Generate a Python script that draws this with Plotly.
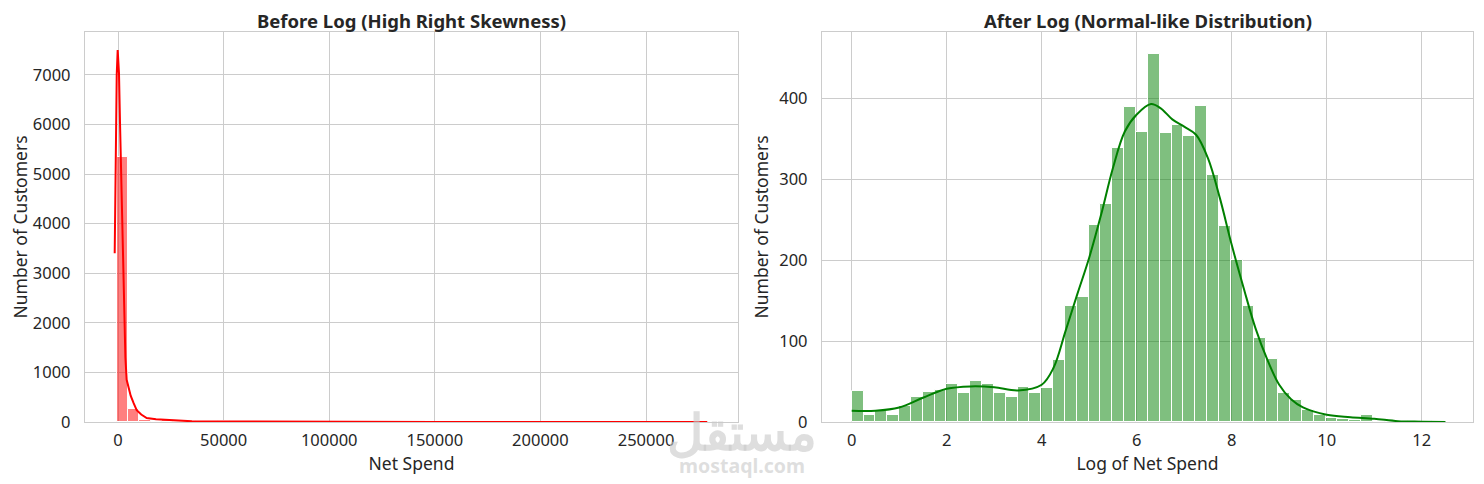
import numpy as np
import plotly.graph_objects as go
from plotly.subplots import make_subplots

# 왼쪽: 로그 변환 전 (bins=50)
before_lo, before_hi = -615, 267000
before_counts = [5343, 262, 45, 22, 35, 28, 12, 8, 10, 18, 6, 4, 3, 5, 2, 2, 1, 1, 2, 0,
                 1, 0, 0, 1, 0, 0, 1, 0, 0, 0, 0, 1, 0, 0, 0, 0, 0, 0, 0, 0,
                 0, 0, 0, 0, 0, 0, 0, 0, 0, 1]
before_kde_x = [-1560, -1100, -600, -150, 470, 950, 1420, 1890, 2370, 2980, 3500, 4100,
                5000, 6000, 7400, 8850, 11000, 13600, 18000, 23000, 35000, 50000, 80000,
                150000, 279000]
before_kde_y = [3400, 5500, 7000, 7500, 7030, 6030, 5020, 4010, 3060, 1855, 1300, 850,
                680, 530, 380, 240, 150, 80, 55, 40, 15, 10, 3, 0, 0]

# 오른쪽: 로그 변환 후 (bins=50)
after_lo, after_hi = 0.0, 12.47
after_counts = [38, 9, 13, 9, 20, 31, 37, 40, 47, 36, 51, 47, 36, 31, 43, 36, 42, 77,
                143, 155, 243, 269, 339, 389, 358, 455, 357, 367, 354, 391, 305, 242,
                200, 143, 104, 78, 36, 27, 15, 9, 5, 4, 2, 9, 1, 1, 0, 1, 0, 1]
after_kde_x = [0, 0.5, 1.0, 1.5, 2.0, 2.5, 3.0, 3.5, 4.0, 4.25, 4.5, 4.75, 5.0, 5.25,
               5.5, 5.75, 6.0, 6.3, 6.5, 6.75, 7.0, 7.25, 7.5, 7.75, 8.0, 8.25, 8.5,
               8.75, 9.0, 9.25, 9.5, 10.0, 10.5, 11.0, 11.5, 12.0, 12.5]
after_kde_y = [14, 14, 18, 30, 41, 44, 43, 39, 46, 67, 112, 158, 203, 256, 314, 359,
               380, 393, 388, 374, 365, 355, 326, 277, 219, 166, 116, 77, 46, 28, 18,
               9, 6, 4, 1, 0.4, 0]


def bin_centers(lo, hi, counts):
    edges = np.linspace(lo, hi, len(counts) + 1)
    return (edges[:-1] + edges[1:]) / 2, edges[1] - edges[0]


FONT = "Noto Sans"
TXT = "#262626"
GRID = "#cccccc"
W, H = 1484, 484
OFF = 8  # 페이지 body 여백 보정


def px(x):
    return (x - OFF) / W


def py(y):
    return 1 - (y - OFF) / H


fig = make_subplots(rows=1, cols=2)

bx, bw = bin_centers(before_lo, before_hi, before_counts)
fig.add_trace(go.Bar(x=bx, y=before_counts, width=bw,
                     marker=dict(color="rgba(255,0,0,0.5)", line=dict(color="white", width=1)),
                     showlegend=False), row=1, col=1)
fig.add_trace(go.Scatter(x=before_kde_x, y=before_kde_y, mode="lines",
                         line=dict(color="red", width=2), showlegend=False), row=1, col=1)

ax, aw = bin_centers(after_lo, after_hi, after_counts)
fig.add_trace(go.Bar(x=ax, y=after_counts, width=aw,
                     marker=dict(color="rgba(0,128,0,0.5)", line=dict(color="white", width=1)),
                     showlegend=False), row=1, col=2)
fig.add_trace(go.Scatter(x=after_kde_x, y=after_kde_y, mode="lines", line_shape="spline",
                         line=dict(color="green", width=2), showlegend=False), row=1, col=2)

axis_style = dict(showgrid=True, gridcolor=GRID, gridwidth=1.3, zeroline=False,
                  showline=True, mirror=True, linecolor=GRID, linewidth=1.3,
                  ticks="", automargin=False,
                  tickfont=dict(family=FONT, size=16.5, color=TXT),
                  title_font=dict(family=FONT, size=17.5, color=TXT))

fig.update_xaxes(**axis_style)
fig.update_yaxes(**axis_style)

fig.update_layout(
    width=W, height=H,
    paper_bgcolor="white", plot_bgcolor="white",
    margin=dict(l=0, r=0, t=0, b=0),
    bargap=0,
    xaxis=dict(domain=[px(85), px(738)], range=[-15625, 293560],
               tickvals=[0, 50000, 100000, 150000, 200000, 250000],
               tickformat="d", title_text="Net Spend", title_standoff=3, ticklabelstandoff=3),
    yaxis=dict(domain=[py(422), py(32)], range=[0, 7863], dtick=1000, tickformat="d",
               title_text="Number of Customers", title_standoff=6, ticklabelstandoff=10),
    xaxis2=dict(domain=[px(822), px(1473)], range=[-0.625, 13.08], dtick=2,
                title_text="Log of Net Spend", title_standoff=3, ticklabelstandoff=3),
    yaxis2=dict(domain=[py(422), py(32)], range=[0, 482], dtick=100,
                title_text="Number of Customers", title_standoff=6, ticklabelstandoff=10),
    annotations=[
        dict(text="<b>Before Log (High Right Skewness)</b>", x=px(411.5), y=py(20),
             xanchor="center", yanchor="middle", xref="paper", yref="paper",
             showarrow=False, font=dict(family=FONT, size=18.5, color=TXT)),
        dict(text="<b>After Log (Normal-like Distribution)</b>", x=px(1147.5), y=py(20),
             xanchor="center", yanchor="middle", xref="paper", yref="paper",
             showarrow=False, font=dict(family=FONT, size=18.5, color=TXT)),
        dict(text="<b>مستقل</b>", x=px(742), y=py(431), xanchor="center", yanchor="middle",
             xref="paper", yref="paper", showarrow=False,
             font=dict(family="Noto Sans", size=50, color="rgba(200,200,200,0.6)")),
        dict(text="<b>mostaql.com</b>", x=px(742), y=py(465), xanchor="center", yanchor="middle",
             xref="paper", yref="paper", showarrow=False,
             font=dict(family="Noto Sans", size=19.5, color="rgba(200,200,200,0.6)")),
    ],
)

fig.write_html("out.html")
